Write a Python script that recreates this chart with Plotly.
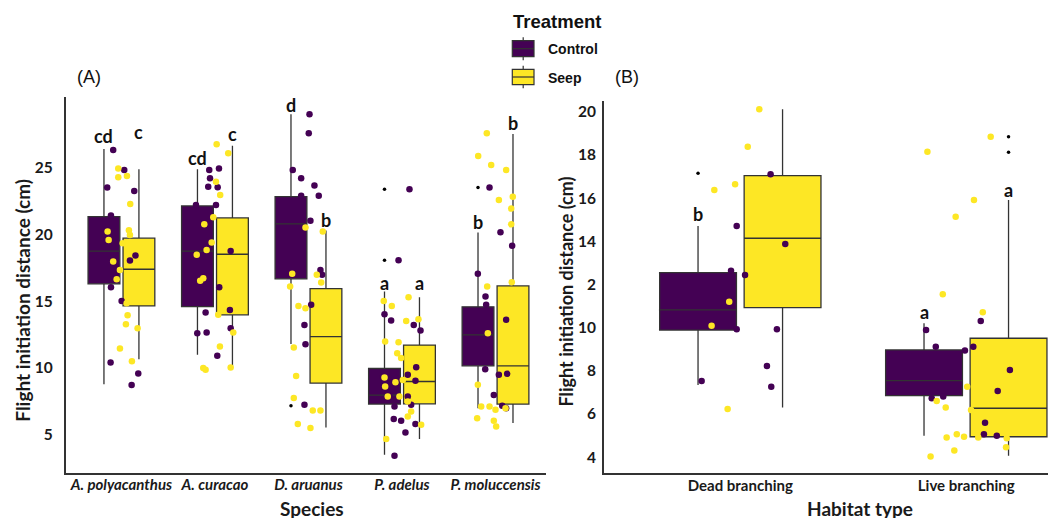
import plotly.graph_objects as go

W, H = 1056, 518
OX, OY = 8, 8   # page body margin offset of the rendered figure
PURPLE = "#440154"
YELLOW = "#FDE725"
LINE = "#333333"

# ---------------- Panel A data ----------------
species = ["A. polyacanthus", "A. curacao", "D. aruanus", "P. adelus", "P. moluccensis"]

a_ctrl_q1 = [16.29, 14.59, 16.66, 7.30, 10.16]
a_ctrl_med = [18.73, 18.73, 20.77, 7.97, 12.48]
a_ctrl_q3 = [21.31, 22.11, 22.80, 9.96, 14.57]
a_ctrl_lo = [8.79, 10.98, 11.80, 3.51, 7.00]
a_ctrl_hi = [26.37, 24.85, 28.96, 15.71, 20.12]

a_seep_q1 = [14.64, 13.97, 8.87, 7.32, 7.30]
a_seep_med = [17.38, 18.50, 12.35, 8.99, 10.16]
a_seep_q3 = [19.70, 21.21, 15.93, 11.71, 16.13]
a_seep_lo = [10.66, 10.03, 5.55, 4.69, 5.88]
a_seep_hi = [24.85, 26.60, 20.27, 15.29, 27.49]

a_out_species = [3, 4, 4, 5]          # 1-based species index (Control boxes)
a_out_y = [7.17, 23.36, 18.05, 23.48]

a_ctrl_letters = ["cd", "cd", "d", "a", "b"]
a_ctrl_letter_y = [27.36, 25.72, 29.65, 16.34, 20.94]
a_seep_letters = ["c", "c", "b", "a", "b"]
a_seep_letter_y = [27.61, 27.46, 21.06, 16.38, 28.29]

a_ctrl_y = [
    [26.29, 24.8, 23.48, 23.23, 21.39, 18.03, 16.04, 15.0, 10.41, 9.59, 8.72, 19.6, 18.4],
    [24.8, 24.9, 24.18, 23.55, 23.5, 22.18, 22.18, 18.75, 16.04, 14.14, 14.34, 12.97, 12.6, 12.65, 10.91],
    [28.96, 27.54, 24.8, 24.18, 23.63, 22.88, 22.88, 21.01, 17.33, 16.96, 14.72, 13.22, 11.78, 7.25],
    [23.36, 18.05, 14.02, 13.54, 13.22, 12.8, 10.06, 9.32, 9.49, 9.04, 8.67, 7.92, 7.12, 7.87, 7.25, 6.18, 6.05, 5.81, 5.18, 3.44],
    [23.48, 20.15, 19.14, 17.05, 15.34, 14.72, 13.6, 9.91, 9.49, 9.56, 7.99, 7.17, 7.0],
]
a_ctrl_jit = [
    [-0.088, 0.030, -0.152, 0.137, -0.112, 0.091, -0.112, 0.002, -0.116, 0.180, 0.109, -0.16, 0.15],
    [-0.061, 0.043, -0.053, -0.072, 0.029, -0.203, 0.011, 0.168, 0.046, -0.1, 0.16, 0.168, -0.189, -0.089, 0.025],
    [0.011, 0.003, -0.168, -0.078, 0.064, 0.11, -0.078, 0.021, 0.128, 0.146, 0.029, -0.043, -0.032, -0.043],
    [0.08, -0.037, -0.187, -0.116, 0.126, 0.198, 0.152, -0.205, 0.062, 0.144, -0.187, -0.134, -0.08, 0.062, 0.098, -0.088, -0.009, 0.144, 0.037, -0.08],
    [-0.064, 0.053, 0.178, -0.189, -0.107, -0.1, 0.114, -0.11, 0.036, 0.125, -0.018, 0.072, 0.114],
]
a_seep_y = [
    [24.9, 24.25, 24.35, 22.26, 20.19, 19.57, 20.3, 19.32, 19.94, 17.95, 17.33, 16.64, 14.84, 13.95, 13.27, 12.97, 11.45, 10.51],
    [26.72, 26.05, 23.92, 22.93, 21.27, 20.74, 19.37, 18.82, 18.47, 16.71, 16.51, 13.97, 12.65, 11.6, 9.99, 9.86, 10.03],
    [20.49, 20.19, 17.04, 16.96, 16.38, 16.08, 14.64, 14.47, 11.53, 9.41, 7.75, 6.82, 6.82, 5.81, 5.51],
    [15.01, 14.64, 15.29, 13.52, 13.65, 11.98, 11.93, 11.11, 10.74, 9.29, 8.94, 9.11, 8.61, 7.87, 7.87, 7.49, 6.75, 6.37, 5.75, 4.69],
    [27.54, 25.84, 25.17, 24.8, 22.56, 22.8, 21.91, 20.74, 16.41, 16.08, 12.6, 8.74, 7.12, 7.12, 6.87, 7.0, 6.25, 6.05, 5.63],
]
a_seep_jit = [
    [-0.034, -0.034, 0.059, 0.094, -0.148, -0.137, 0.080, 0.013, 0.091, -0.088, -0.016, -0.051, 0.056, 0.066, 0.048, 0.173, -0.016, 0.112],
    [0.018, 0.142, 0.011, 0.056, -0.018, -0.114, -0.035, -0.089, -0.195, -0.125, -0.158, 0.035, 0.196, 0.053, -0.125, -0.1, 0.168],
    [-0.032, 0.153, -0.174, 0.089, 0.136, -0.196, -0.107, -0.032, -0.157, -0.132, -0.157, 0.046, 0.128, -0.114, 0.021],
    [-0.195, -0.109, 0.07, 0.045, 0.176, -0.18, -0.037, -0.051, -0.009, -0.187, -0.07, 0.009, -0.18, -0.152, -0.027, 0.062, 0.098, 0.062, 0.205, -0.169],
    [-0.093, -0.185, -0.046, 0.114, 0.036, 0.185, 0.168, 0.168, 0.174, -0.089, -0.082, -0.189, -0.153, -0.064, 0.0, 0.107, -0.196, -0.018, 0.007],
]

# ---------------- Panel B data ----------------
habitats = ["Dead branching", "Live branching"]

b_ctrl_q1 = [9.89, 6.85]
b_ctrl_med = [10.82, 7.55]
b_ctrl_q3 = [12.55, 8.97]
b_ctrl_lo = [7.35, 5.00]
b_ctrl_hi = [14.71, 10.20]

b_seep_q1 = [10.93, 4.95]
b_seep_med = [14.14, 6.27]
b_seep_q3 = [17.04, 9.51]
b_seep_lo = [6.30, 4.07]
b_seep_hi = [20.11, 15.91]

b_out_ctrl_hab = [1]
b_out_ctrl_y = [17.15]
b_out_seep_hab = [2, 2]
b_out_seep_y = [18.84, 18.12]

b_ctrl_letters = ["b", "a"]
b_ctrl_letter_y = [15.26, 10.71]
b_seep_letters = ["b", "a"]
b_seep_letter_y = [20.62, 16.37]

b_ctrl_y = [
    [17.1, 14.71, 13.87, 12.64, 12.44, 9.93, 9.93, 8.23, 7.53, 7.27],
    [9.89, 9.12, 8.94, 9.12, 10.31, 8.04, 7.07, 6.73, 6.81, 5.6, 5.06, 4.99],
]
b_ctrl_jit = [
    [0.134, -0.016, 0.199, -0.041, 0.021, -0.016, 0.162, 0.118, -0.171, 0.137],
    [-0.178, -0.135, -0.006, 0.031, 0.064, 0.193, 0.139, -0.153, -0.102, 0.083, 0.078, 0.135],
]
b_seep_y = [
    [20.11, 18.38, 16.38, 16.64, 11.2, 10.09, 6.24],
    [18.15, 18.84, 15.91, 15.14, 11.55, 10.71, 7.27, 6.61, 6.3, 6.19, 4.91, 5.06, 4.95, 4.91, 4.88, 4.31, 4.03, 4.46],
]
b_seep_jit = [
    [0.084, 0.033, -0.115, -0.023, -0.049, -0.127, -0.056],
    [-0.172, 0.108, 0.034, -0.047, -0.104, 0.073, 0.004, -0.131, -0.091, 0.021, -0.087, -0.042, -0.01, 0.053, 0.179, -0.053, -0.158, 0.176],
]

b_yticks = [4, 6, 8, 10, 12, 14, 16, 18, 20]
b_yticktext = ["4", "6", "8", "10", "2", "14", "16", "18", "20"]

# ---------------- styling ----------------
DODGE = 0.187
BOXW = 0.34
PT = 6.5


def pxx(x):
    return (x - OX) / W


def pxy(y):
    return 1 - (y - OY) / H


fig = go.Figure()


def add_boxes(xa, ya, n, q1, med, q3, lo, hi, off, color):
    fig.add_trace(go.Box(
        x=[i + 1 + off for i in range(n)], q1=q1, median=med, q3=q3,
        lowerfence=lo, upperfence=hi, width=BOXW, boxpoints=False,
        whiskerwidth=0, fillcolor=color, line=dict(color=LINE, width=1.3),
        xaxis=xa, yaxis=ya, showlegend=False, hoverinfo="skip"))


def add_points(xa, ya, ys, jits, color):
    xs, yv = [], []
    for i, (yy, jj) in enumerate(zip(ys, jits)):
        for a, b in zip(yy, jj):
            xs.append(i + 1 + b)
            yv.append(a)
    fig.add_trace(go.Scatter(x=xs, y=yv, mode="markers", xaxis=xa, yaxis=ya,
                             marker=dict(color=color, size=PT, line=dict(width=0)),
                             showlegend=False, hoverinfo="skip"))


def add_outliers(xa, ya, idx, ys, off):
    fig.add_trace(go.Scatter(x=[i + off for i in idx], y=ys, mode="markers",
                             xaxis=xa, yaxis=ya,
                             marker=dict(color="black", size=3.5),
                             showlegend=False, hoverinfo="skip"))


# Panel A
add_boxes("x", "y", 5, a_ctrl_q1, a_ctrl_med, a_ctrl_q3, a_ctrl_lo, a_ctrl_hi, -DODGE, PURPLE)
add_boxes("x", "y", 5, a_seep_q1, a_seep_med, a_seep_q3, a_seep_lo, a_seep_hi, DODGE, YELLOW)
add_outliers("x", "y", a_out_species, a_out_y, -DODGE)
add_points("x", "y", a_ctrl_y, a_ctrl_jit, PURPLE)
add_points("x", "y", a_seep_y, a_seep_jit, YELLOW)

# Panel B
add_boxes("x2", "y2", 2, b_ctrl_q1, b_ctrl_med, b_ctrl_q3, b_ctrl_lo, b_ctrl_hi, -DODGE, PURPLE)
add_boxes("x2", "y2", 2, b_seep_q1, b_seep_med, b_seep_q3, b_seep_lo, b_seep_hi, DODGE, YELLOW)
add_outliers("x2", "y2", b_out_ctrl_hab, b_out_ctrl_y, -DODGE)
add_outliers("x2", "y2", b_out_seep_hab, b_out_seep_y, DODGE)
add_points("x2", "y2", b_ctrl_y, b_ctrl_jit, PURPLE)
add_points("x2", "y2", b_seep_y, b_seep_jit, YELLOW)

TICKFONT = dict(family="Lato", size=15.5, color="#1a1a1a", weight="bold")
XTICKFONT_A = dict(family="Lato", size=15, color="#1a1a1a", weight="bold", style="italic")
XTICKFONT_B = dict(family="Lato", size=15, color="#1a1a1a", weight="bold")
axis_common = dict(showline=True, linecolor=LINE, linewidth=1.5, showgrid=False,
                   zeroline=False, ticks="", mirror=False, fixedrange=True)

fig.update_layout(
    width=W, height=H, margin=dict(l=0, r=0, t=0, b=0),
    paper_bgcolor="white", plot_bgcolor="white", showlegend=False,
    xaxis=dict(domain=[pxx(65.7), pxx(546)], range=[0.404, 5.54],
               tickvals=[1, 2, 3, 4, 5], ticktext=species, tickfont=XTICKFONT_A,
               ticklabelstandoff=-2, anchor="y", **axis_common),
    yaxis=dict(domain=[pxy(472.5), pxy(97)], range=[2.19, 30.25],
               tickvals=[5, 10, 15, 20, 25], tickfont=TICKFONT,
               ticklabelstandoff=8, anchor="x", **axis_common),
    xaxis2=dict(domain=[pxx(603.8), pxx(1056)], range=[0.396, 2.397],
                tickvals=[1, 2], ticktext=habitats, tickfont=XTICKFONT_B,
                ticklabelstandoff=-2, anchor="y2", **axis_common),
    yaxis2=dict(domain=[pxy(472.8), pxy(100.7)], range=[3.28, 20.51],
                tickvals=b_yticks, ticktext=b_yticktext, tickfont=TICKFONT,
                ticklabelstandoff=3, anchor="x2", **axis_common),
)

# significance letters
LETTERFONT = dict(family="Lato", size=18, color="#111111", weight="bold")
for i, (t, yy) in enumerate(zip(a_ctrl_letters, a_ctrl_letter_y)):
    fig.add_annotation(x=i + 1 - DODGE, y=yy, xref="x", yref="y", text=t,
                       showarrow=False, font=LETTERFONT)
for i, (t, yy) in enumerate(zip(a_seep_letters, a_seep_letter_y)):
    fig.add_annotation(x=i + 1 + DODGE, y=yy, xref="x", yref="y", text=t,
                       showarrow=False, font=LETTERFONT)
for i, (t, yy) in enumerate(zip(b_ctrl_letters, b_ctrl_letter_y)):
    fig.add_annotation(x=i + 1 - DODGE, y=yy, xref="x2", yref="y2", text=t,
                       showarrow=False, font=LETTERFONT)
for i, (t, yy) in enumerate(zip(b_seep_letters, b_seep_letter_y)):
    fig.add_annotation(x=i + 1 + DODGE, y=yy, xref="x2", yref="y2", text=t,
                       showarrow=False, font=LETTERFONT)


def ptext(x, y, text, font, angle=0, xanchor="center"):
    fig.add_annotation(x=pxx(x), y=pxy(y), xref="paper", yref="paper", text=text,
                       showarrow=False, font=font, textangle=angle,
                       xanchor=xanchor, yanchor="middle")


TITLEFONT = dict(family="Lato", size=19, color="#1a1a1a", weight="bold")
ptext(21.7, 300, "Flight initiation distance (cm)", TITLEFONT, angle=-90)
ptext(565, 291.5, "Flight initiation distance (cm)", dict(family="Lato", size=18, color="#1a1a1a", weight="bold"), angle=-90)
ptext(311.7, 508, "Species", TITLEFONT)
ptext(860, 508, "Habitat type", TITLEFONT)

PANELFONT = dict(family="Liberation Sans", size=18, color="#111111")
ptext(89, 77, "(A)", PANELFONT)
ptext(627, 77, "(B)", PANELFONT)

# legend (drawn manually)
LEGFONT = dict(family="Liberation Sans", size=14, color="#111111", weight="bold")
ptext(511, 22, "Treatment", dict(family="Liberation Sans", size=18.5, color="#111111", weight="bold"), xanchor="left")
for (y0, y1, col, label) in [(40.7, 56.7, PURPLE, "Control"), (69.3, 84.7, YELLOW, "Seep")]:
    cx = 523.2
    fig.add_shape(type="line", xref="paper", yref="paper", x0=pxx(cx), x1=pxx(cx),
                  y0=pxy(y0 - 3.5), y1=pxy(y1 + 3.5), line=dict(color=LINE, width=1.2))
    fig.add_shape(type="rect", xref="paper", yref="paper", x0=pxx(512.3), x1=pxx(534),
                  y0=pxy(y1), y1=pxy(y0), fillcolor=col, line=dict(color=LINE, width=1.2))
    ym = (y0 + y1) / 2
    fig.add_shape(type="line", xref="paper", yref="paper", x0=pxx(512.3), x1=pxx(534),
                  y0=pxy(ym), y1=pxy(ym), line=dict(color=LINE, width=1.2))
    ptext(545.7, ym + 0.5, label, LEGFONT, xanchor="left")

fig.write_html("out.html")
